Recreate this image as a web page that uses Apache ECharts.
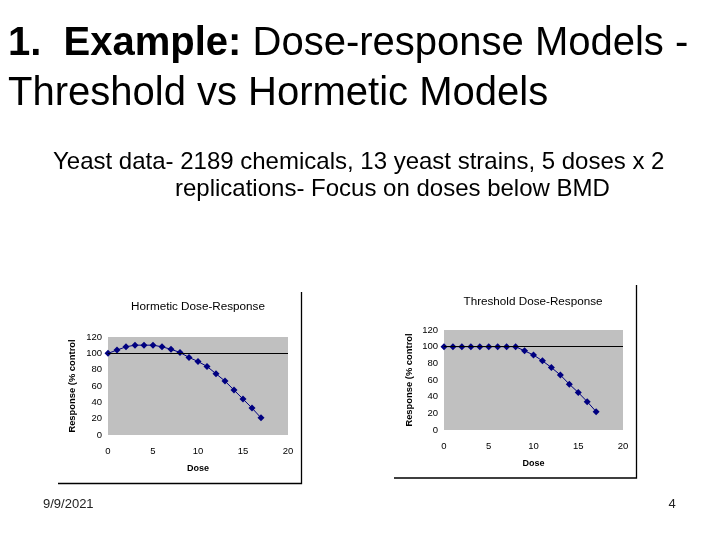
<!DOCTYPE html>
<html>
<head>
<meta charset="utf-8">
<script src="https://cdn.jsdelivr.net/npm/echarts@6/dist/echarts.min.js"></script>
<style>
html,body{margin:0;padding:0;background:#fff;}
#c{width:720px;height:540px;}
</style>
</head>
<body>
<div id="c"></div>
<script>
const doses = [0,1,2,3,4,5,6,7,8,9,10,11,12,13,14,15,16,17];
const hormetic = [100,104,108,110,110,110,108,105,101,95,90,84,75,66,55,44,33,21];
const threshold = [100,100,100,100,100,100,100,100,100,95,90,83,75,66,55,45,34,22];
const xTicks = [0,5,10,15,20];
const yTicks = [0,20,40,60,80,100,120];
const controlLevel = 100;

const FONT = 'Liberation Sans, Arial, sans-serif';
const chart = echarts.init(document.getElementById('c'), null, {renderer:'canvas'});

function pairs(xs, ys){ return xs.map((x,i)=>[x, ys[i]]); }

function xAx(idx){
  return {
    gridIndex: idx, type:'value', min: xTicks[0], max: xTicks[xTicks.length-1], interval: 5,
    name:'Dose', nameLocation:'middle', nameGap:29,
    nameTextStyle:{fontFamily:FONT, fontSize:9, fontWeight:'bold', color:'#000'},
    axisLine:{show:false}, axisTick:{show:false}, splitLine:{show:false},
    axisLabel:{fontFamily:FONT, fontSize:9.5, color:'#000', margin:11}
  };
}
function yAx(idx, gap){
  return {
    gridIndex: idx, type:'value', min: yTicks[0], max: yTicks[yTicks.length-1], interval: 20,
    name:'Response (% control', nameLocation:'middle', nameGap:gap, nameRotate:90,
    nameTextStyle:{fontFamily:FONT, fontSize:9.4, fontWeight:'bold', color:'#000'},
    axisLine:{show:false}, axisTick:{show:false}, splitLine:{show:false},
    axisLabel:{fontFamily:FONT, fontSize:9.5, color:'#000', margin:6}
  };
}
function ser(idx, ys){
  return {
    type:'line', xAxisIndex:idx, yAxisIndex:idx, data: pairs(doses, ys),
    symbol:'diamond', symbolSize:7, showSymbol:true,
    lineStyle:{color:'#000080', width:1}, itemStyle:{color:'#000080'},
    animation:false, silent:true,
    markLine:{silent:true, symbol:'none', animation:false, label:{show:false},
      lineStyle:{color:'#000', width:1, type:'solid'}, data:[{yAxis: controlLevel}]}
  };
}

const option = {
  backgroundColor:'#fff',
  animation:false,
  grid:[
    {left:108, top:337, width:180, height:98, show:true, backgroundColor:'#c0c0c0', borderWidth:0},
    {left:444, top:330, width:179, height:100, show:true, backgroundColor:'#c0c0c0', borderWidth:0}
  ],
  xAxis:[xAx(0), xAx(1)],
  yAxis:[yAx(0,31), yAx(1,30)],
  series:[ser(0, hormetic), ser(1, threshold)],
  graphic:[
    {type:'text', left:8, top:24, style:{text:'{b|1.  Example:} Dose-response Models -', font:'40px '+FONT, fill:'#000',
      rich:{b:{fontWeight:'bold', fontSize:40, fontFamily:FONT}}}},
    {type:'text', left:8, top:74, style:{text:'Threshold vs Hormetic Models', font:'40px '+FONT, fill:'#000'}},
    {type:'text', left:53, top:150, style:{text:'Yeast data- 2189 chemicals, 13 yeast strains, 5 doses x 2', font:'24px '+FONT, fill:'#000'}},
    {type:'text', left:175, top:177, style:{text:'replications- Focus on doses below BMD', font:'24px '+FONT, fill:'#000'}},
    {type:'text', x:198, y:307, style:{text:'Hormetic Dose-Response', font:'11.7px '+FONT, fill:'#000', align:'center', verticalAlign:'middle'}},
    {type:'text', x:533, y:301.5, style:{text:'Threshold Dose-Response', font:'11.7px '+FONT, fill:'#000', align:'center', verticalAlign:'middle'}},
    {type:'polyline', shape:{points:[[301.5,292],[301.5,483.5],[58,483.5]]}, style:{stroke:'#000', lineWidth:1.3, fill:null}},
    {type:'polyline', shape:{points:[[636.5,285],[636.5,478],[394,478]]}, style:{stroke:'#000', lineWidth:1.3, fill:null}},
    {type:'text', x:43, y:504, style:{text:'9/9/2021', font:'13px '+FONT, fill:'#222', verticalAlign:'middle'}},
    {type:'text', x:672, y:504, style:{text:'4', font:'13px '+FONT, fill:'#222', align:'center', verticalAlign:'middle'}}
  ]
};
chart.setOption(option);
</script>
</body>
</html>
